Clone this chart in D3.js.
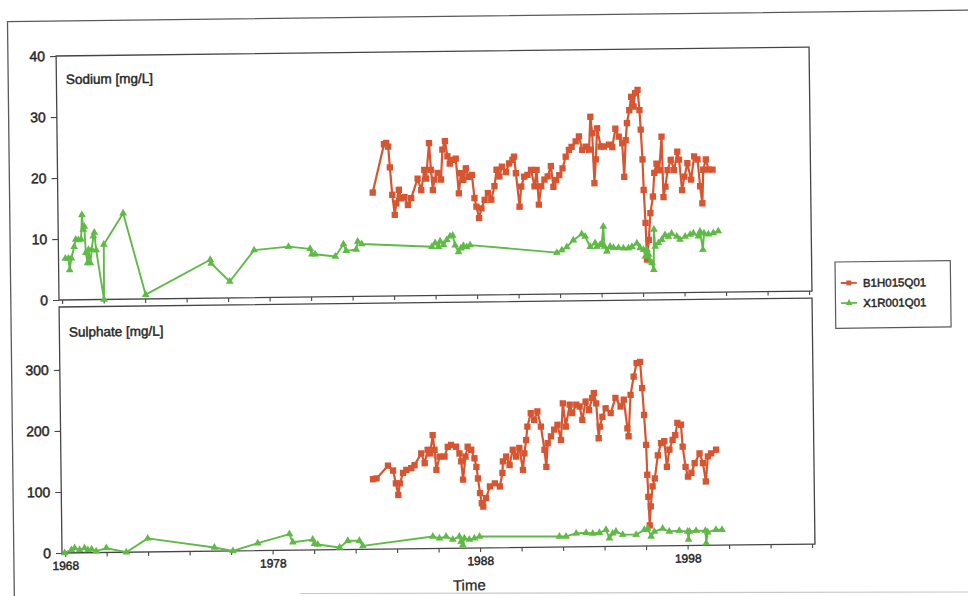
<!DOCTYPE html>
<html><head><meta charset="utf-8">
<script src="https://cdn.jsdelivr.net/npm/d3@7"></script>
<style>html,body{margin:0;padding:0;background:#fff;} svg{display:block;}</style>
</head><body>
<svg id="chart" width="968" height="596"></svg>
<script>
// ---------- DATA ----------
const seriesNames = ["B1H015Q01", "X1R001Q01"];

const sodiumDatesB = [1983.03,1983.60,1983.71,1983.80,1983.87,1983.97,1984.08,1984.16,1984.29,1984.40,
1984.56,1984.72,1984.88,1985.20,1985.37,1985.53,1985.61,1985.77,1985.85,1985.93,
1986.01,1986.17,1986.33,1986.41,1986.54,1986.65,1986.76,1986.89,1987.05,1987.18,
1987.29,1987.40,1987.53,1987.66,1987.82,1987.93,1988.02,1988.14,1988.26,1988.42,
1988.58,1988.74,1988.90,1989.01,1989.14,1989.27,1989.46,1989.62,1989.78,1989.86,
1989.94,1990.10,1990.19,1990.34,1990.50,1990.67,1990.83,1990.94,1991.03,1991.15,
1991.31,1991.47,1991.63,1991.74,1991.87,1992.03,1992.19,1992.35,1992.51,1992.64,
1992.84,1993.00,1993.15,1993.32,1993.48,1993.56,1993.64,1993.72,1993.80,1993.88,
1994.04,1994.20,1994.44,1994.60,1994.76,1994.92,1995.08,1995.16,1995.25,1995.32,
1995.44,1995.54,1995.65,1995.73,1995.85,1995.93,1995.98,1996.05,1996.09,1996.16,
1996.21,1996.31,1996.40,1996.53,1996.61,1996.72,1996.85,1996.98,1997.04,1997.14,
1997.25,1997.41,1997.57,1997.73,1997.81,1997.94,1998.06,1998.21,1998.38,1998.54,
1998.70,1998.81,1998.91,1998.97,1999.10,1999.23,1999.42];
const sodiumValuesB = [17.0,24.9,25.1,24.5,21.1,16.6,13.3,15.2,17.4,16.0,
16.2,14.9,16.0,19.2,17.3,20.6,19.2,25.0,20.6,17.3,
19.0,20.1,19.0,23.9,25.3,22.8,21.6,22.2,22.4,16.7,
20.0,18.9,20.8,19.4,19.7,15.9,14.5,12.6,14.2,15.6,
16.7,15.6,17.8,20.5,19.4,21.0,20.1,21.5,22.1,22.6,
19.9,14.4,17.7,19.3,19.6,20.4,17.7,20.4,14.7,17.7,
18.8,19.3,21.0,17.6,18.7,19.5,20.6,22.5,23.6,24.1,
25.0,25.8,23.6,24.1,23.6,29.0,26.3,18.1,22.0,27.1,
24.1,24.1,24.4,24.0,27.0,25.7,24.6,19.1,25.1,27.9,
30.0,32.2,30.6,32.8,33.3,30.0,26.8,21.9,16.9,11.5,
5.5,8.7,13.1,15.8,19.7,21.2,20.1,25.6,15.7,17.4,
20.1,21.8,20.1,23.1,21.8,16.8,19.0,21.2,18.5,22.3,
21.8,17.4,14.6,20.1,21.8,20.1,20.1];

const sodiumDatesX = [1968.18,1968.33,1968.38,1968.47,1968.61,1968.69,1968.82,1968.95,1969.00,1969.06,
1969.11,1969.17,1969.25,1969.30,1969.38,1969.46,1969.54,1969.59,1969.67,1970.02,
1970.04,1970.99,1972.03,1975.16,1975.20,1976.09,1977.28,1978.94,1979.98,1980.06,
1980.22,1981.19,1981.59,1981.72,1982.20,1982.28,1982.47,1985.85,1986.01,1986.17,
1986.25,1986.41,1986.57,1986.73,1986.86,1986.97,1987.13,1987.25,1987.37,1987.53,
1987.69,1991.87,1992.11,1992.35,1992.67,1993.08,1993.24,1993.48,1993.72,1993.80,
1993.96,1994.04,1994.12,1994.17,1994.28,1994.44,1994.60,1994.84,1995.08,1995.32,
1995.49,1995.73,1995.89,1996.05,1996.13,1996.21,1996.29,1996.37,1996.45,1996.53,
1996.56,1996.61,1996.77,1996.93,1997.09,1997.25,1997.41,1997.66,1997.81,1998.06,
1998.30,1998.46,1998.70,1998.78,1998.91,1998.97,1999.18,1999.42,1999.66];
const sodiumValuesX = [6.8,6.8,4.9,6.8,8.7,9.9,9.8,9.9,13.9,11.5,
12.0,7.7,6.0,8.2,6.0,8.2,10.4,11.0,8.1,0.0,
9.0,14.1,0.7,6.3,5.7,2.7,7.8,8.3,7.9,7.0,
7.0,6.6,8.6,7.5,7.7,9.0,8.6,8.0,8.6,8.0,
8.9,8.3,9.1,9.7,9.8,8.2,7.1,7.7,8.1,7.9,
8.2,6.8,7.2,7.7,8.8,9.8,9.4,7.7,8.3,7.7,
8.0,8.2,11.0,7.7,6.9,7.7,7.5,7.5,7.4,7.4,
7.6,8.2,7.4,7.1,6.0,7.1,6.3,5.2,4.9,3.8,
10.4,7.6,8.2,8.7,9.5,9.2,9.7,9.2,8.7,9.2,
9.5,9.7,9.2,10.0,7.0,9.7,9.5,9.7,10.0];

const sulphateDatesB = [1982.88,1983.05,1983.61,1983.85,1983.98,1984.09,1984.17,1984.33,1984.49,1984.73,
1984.89,1985.22,1985.38,1985.53,1985.65,1985.78,1985.86,1985.94,1986.10,1986.34,
1986.50,1986.66,1986.90,1987.06,1987.14,1987.22,1987.35,1987.46,1987.63,1987.78,
1987.87,1987.94,1988.03,1988.11,1988.18,1988.32,1988.51,1988.75,1988.99,1989.12,
1989.15,1989.31,1989.47,1989.63,1989.79,1989.95,1990.11,1990.19,1990.28,1990.35,
1990.52,1990.68,1990.84,1991.00,1991.16,1991.24,1991.32,1991.48,1991.64,1991.80,
1991.96,1992.07,1992.20,1992.40,1992.52,1992.72,1992.88,1993.00,1993.17,1993.33,
1993.49,1993.57,1993.68,1993.78,1993.84,1993.97,1994.13,1994.37,1994.61,1994.85,
1995.01,1995.17,1995.22,1995.34,1995.50,1995.65,1995.82,1995.90,1995.98,1996.06,
1996.10,1996.14,1996.19,1996.25,1996.35,1996.46,1996.62,1996.78,1996.94,1997.05,
1997.18,1997.34,1997.47,1997.58,1997.75,1997.82,1997.95,1998.06,1998.23,1998.39,
1998.63,1998.79,1998.92,1999.03,1999.19,1999.43];
const sulphateValuesB = [114.8,115.9,136.7,128.6,107.6,88.5,107.5,124.4,129.3,132.3,
137.2,156.1,140.0,161.9,155.9,185.8,161.8,128.8,150.7,150.6,
166.5,169.5,166.4,155.3,142.3,112.3,150.2,166.2,161.1,147.1,
133.0,114.0,89.9,73.4,67.9,81.8,100.7,105.6,100.5,122.5,
141.5,149.4,135.4,160.3,149.2,163.2,127.1,154.1,176.0,198.0,
219.9,208.9,222.8,197.7,159.7,131.7,170.6,181.5,192.5,200.4,
175.4,235.3,197.3,233.2,219.1,233.1,230.0,208.0,237.9,223.8,
243.7,251.7,234.7,177.6,196.6,212.6,226.5,218.4,243.3,229.2,
240.1,193.1,180.1,248.0,277.9,299.9,301.8,258.8,214.8,165.7,
116.7,80.7,33.7,64.7,97.6,110.6,148.5,168.5,171.4,129.4,
157.3,173.3,181.2,201.2,198.1,162.1,129.0,112.9,118.9,134.8,
150.7,134.7,104.6,145.6,150.5,156.4];

const sulphateDatesX = [1967.98,1968.30,1968.46,1968.70,1968.94,1969.10,1969.28,1969.50,1969.99,1970.95,
1971.99,1975.20,1976.09,1977.29,1978.82,1978.98,1979.94,1980.02,1980.18,1981.23,
1981.63,1982.19,1982.35,1985.73,1986.05,1986.37,1986.69,1987.01,1987.09,1987.17,
1987.25,1987.49,1987.73,1987.98,1991.83,1992.15,1992.64,1993.12,1993.44,1993.76,
1994.08,1994.24,1994.40,1994.56,1994.88,1995.53,1995.93,1996.09,1996.25,1996.41,
1996.81,1997.13,1997.61,1998.01,1998.05,1998.10,1998.42,1998.87,1998.90,1998.98,
1999.38,1999.67];
const sulphateValuesX = [0,4.9,7.9,4.8,7.6,4.6,5.5,2.4,7.2,0,
22.3,6.0,0,12.2,26.6,13.0,17.1,10.1,9.0,3.6,
14.4,14.2,5.7,19.8,16.7,19.6,14.4,19.3,10.8,5.3,
16.2,14.1,16.0,18.9,17.4,17.3,22.1,22.9,21.7,22.6,
27.5,13.4,21.4,24.3,19.2,18.9,26.8,28.7,15.6,23.6,
28.4,23.3,24.6,22.9,9.9,22.9,24.2,24.1,3.6,21.5,
25.4,25.2];

const sodiumTicks = [0, 10, 20, 30, 40];
const sulphateTicks = [0, 100, 200, 300];
const yearTicks = [1968,1970,1972,1974,1976,1978,1980,1982,1984,1986,1988,1990,1992,1994,1996,1998,2000,2002,2004];
const yearLabels = [1968, 1978, 1988, 1998];

// ---------- DRAW ----------
const W = 968, H = 596;
const font = '"Liberation Sans", Arial, Helvetica, sans-serif';
const red = '#d75530', green = '#5fba46', ink = '#262626', frame = '#454545';
const svg = d3.select('#chart');
svg.append('rect').attr('width', W).attr('height', H).attr('fill', '#fff');

// the scanned page is slightly rotated
const g = svg.append('g').attr('transform', 'rotate(-0.68,59,300)');

// outer page frame
g.append('path').attr('d', 'M10.8,660 V21 H1050')
  .attr('fill', 'none').attr('stroke', '#5a5a5a').attr('stroke-width', 1.3);

const left = 59, right = 812;
const x = d3.scaleLinear().domain([1967.85, 2004.14]).range([left, right]);

const panels = [
  { top: 56, bottom: 300, domain: [0, 40], ticks: sodiumTicks, label: 'Sodium [mg/L]', labelX: 68.5, labelY: 84.1,
    series: [[sodiumDatesB, sodiumValuesB, 'B'], [sodiumDatesX, sodiumValuesX, 'X']], showX: false },
  { top: 307, bottom: 553, domain: [0, 403], ticks: sulphateTicks, label: 'Sulphate [mg/L]', labelX: 68.6, labelY: 336.8,
    series: [[sulphateDatesB, sulphateValuesB, 'B'], [sulphateDatesX, sulphateValuesX, 'X']], showX: true }
];

function textStyle(sel, size) {
  sel.attr('font-family', font).attr('font-size', size).attr('fill', ink)
     .attr('stroke', ink).attr('stroke-width', 0.45);
}

panels.forEach(p => {
  const y = d3.scaleLinear().domain(p.domain).range([p.bottom, p.top]);

  // y axis
  const ya = g.append('g').attr('transform', `translate(${left},0)`)
    .call(d3.axisLeft(y).tickValues(p.ticks).tickSize(6).tickPadding(5));
  ya.select('.domain').remove();
  ya.selectAll('line').attr('stroke', frame).attr('stroke-width', 1.1);
  ya.selectAll('text').call(textStyle, '14px');

  // x axis
  const xa = g.append('g').attr('transform', `translate(0,${p.bottom})`)
    .call(d3.axisBottom(x).tickValues(yearTicks).tickSize(4).tickPadding(4.5)
      .tickFormat(d => (p.showX && yearLabels.includes(d)) ? String(d) : ''));
  xa.select('.domain').remove();
  xa.selectAll('line').attr('stroke', frame).attr('stroke-width', 1.1);
  xa.selectAll('text').call(textStyle, '12px');

  // panel border
  g.append('rect').attr('x', left).attr('y', p.top)
    .attr('width', right - left).attr('height', p.bottom - p.top)
    .attr('fill', 'none').attr('stroke', frame).attr('stroke-width', 1.3);

  // panel label
  g.append('text').attr('x', p.labelX).attr('y', p.labelY).text(p.label).call(textStyle, '13.5px');

  // series
  p.series.forEach(([dates, values, key]) => {
    const pts = d3.zip(dates, values);
    const col = key === 'B' ? red : green;
    g.append('path').datum(pts)
      .attr('fill', 'none').attr('stroke', col).attr('stroke-width', key === 'B' ? 2.2 : 1.9)
      .attr('stroke-linejoin', 'round')
      .attr('d', d3.line().x(d => x(d[0])).y(d => y(d[1])));
    const sym = d3.symbol().type(key === 'B' ? d3.symbolSquare : d3.symbolTriangle).size(key === 'B' ? 40 : 26);
    g.append('g').selectAll('path').data(pts).join('path')
      .attr('transform', d => `translate(${x(d[0])},${y(d[1])})`)
      .attr('d', sym).attr('fill', col);
  });
});

// x axis title
g.append('text').attr('x', 465.9).attr('y', 595.3).attr('text-anchor', 'middle')
  .text('Time').call(textStyle, '15px').attr('stroke-width', 0.25);

// legend
const lg = g.append('g');
lg.append('rect').attr('x', 835.4).attr('y', 271.2).attr('width', 115.3).attr('height', 66.3)
  .attr('fill', '#fff').attr('stroke', '#5a5a5a').attr('stroke-width', 1.2);
const legendRows = [[seriesNames[0], red, d3.symbolSquare, 24], [seriesNames[1], green, d3.symbolTriangle, 20]];
legendRows.forEach(([name, col, type, size], i) => {
  const ly = 292.3 + i * 20.1;
  lg.append('line').attr('x1', 841).attr('x2', 857).attr('y1', ly).attr('y2', ly)
    .attr('stroke', col).attr('stroke-width', 1.8);
  lg.append('path').attr('transform', `translate(849,${ly})`).attr('d', d3.symbol().type(type).size(size)).attr('fill', col);
  lg.append('text').attr('x', 863).attr('y', ly).attr('dy', '0.36em').text(name).call(textStyle, '11.5px');
});

// faint bottom edge of the scanned page
svg.append('line').attr('x1', 300).attr('x2', 968).attr('y1', 593.5).attr('y2', 592)
  .attr('stroke', '#c8c8c8').attr('stroke-width', 1.2);
</script>
</body></html>
